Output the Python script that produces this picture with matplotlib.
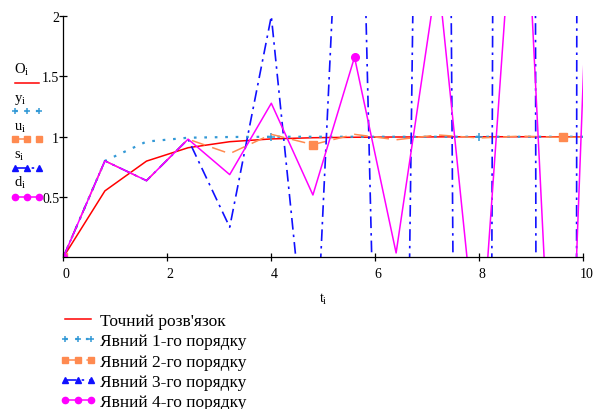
import matplotlib.pyplot as plt
import matplotlib.transforms as mtransforms
from matplotlib.lines import Line2D

# time grid (step 0.8, last point lies past the x limit)
t = [0, 0.8, 1.6, 2.4, 3.2, 4.0, 4.8, 5.6, 6.4, 7.2, 8.0, 8.8, 9.6, 10.4]

# exact solution and the four explicit schemes
exact = [0, 0.551, 0.798, 0.909, 0.959, 0.982, 0.992, 0.996, 0.998, 0.999, 1.0, 1.0, 1.0, 1.0]
order1 = [0, 0.8, 0.96, 0.992, 0.998, 1.0, 1.0, 1.0, 1.0, 1.0, 1.0, 1.0, 1.0, 1.0]
order2 = [0, 0.8, 0.636, 0.98, 0.86, 1.02, 0.935, 1.02, 0.975, 1.015, 0.99, 1.005, 0.995, 1.0]
order3 = [0, 0.8, 0.636, 0.98, 0.25, 2.0, -1.4, 6.0, -8.5, 17.7, -30.6, 71.0, -126.0, 247.0]
order4 = [0, 0.8, 0.636, 0.98, 0.686, 1.278, 0.517, 1.66, 0.036, 2.37, -1.0, 3.9, -3.1, 6.1]

legend_labels = ["Точний розв'язок", "Явний 1-го порядку", "Явний 2-го порядку",
                 "Явний 3-го порядку", "Явний 4-го порядку"]
trace_names = [r'$\mathrm{O_i}$', r'$\mathrm{y_i}$', r'$\mathrm{u_i}$', r'$\mathrm{s_i}$', r'$\mathrm{d_i}$']

plt.rcParams['font.family'] = ['Liberation Serif', 'DejaVu Serif']
plt.rcParams['mathtext.fontset'] = 'custom'
plt.rcParams['mathtext.rm'] = 'Liberation Serif'
plt.rcParams['mathtext.it'] = 'Liberation Serif'

c_red, c_cyan, c_orange, c_blue, c_mag = 'red', '#3399d6', '#ff8a50', '#1010ff', '#ff00ff'

styles = [
    dict(color=c_red, lw=1.1, ls='-'),
    dict(color=c_cyan, lw=1.6, dashes=[1.2, 3.5], marker='+', ms=6, mew=1.1),
    dict(color=c_orange, lw=1.1, dashes=[9, 5], marker='s', ms=6),
    dict(color=c_blue, lw=1.2, dashes=[7, 3, 1.5, 3], marker='^', ms=5),
    dict(color=c_mag, lw=1.1, ls='-', marker='o', ms=5.5),
]
every = [None, 5, 6, 8, 7]

fig = plt.figure(figsize=(6, 4.1), dpi=100)
ax = fig.add_axes([0.1055, 0.37, 0.8667, 0.588])

for y, st, me in zip([exact, order1, order2, order3, order4], styles, every):
    ax.plot(t, y, markevery=me, **st)

ax.set_xlim(0, 10)
ax.set_ylim(0, 2)
ax.spines['top'].set_visible(False)
ax.spines['right'].set_visible(False)
for s in ['left', 'bottom']:
    ax.spines[s].set_linewidth(0.9)
ax.set_xticks([0, 2, 4, 6, 8, 10])
ax.set_yticks([0.5, 1, 1.5, 2])
ax.set_yticklabels(['0.5', '1', '1.5', '2'])
ax.tick_params(axis='x', direction='inout', length=6, width=0.9, labelsize=10, pad=4)
ax.tick_params(axis='y', direction='inout', length=6, width=0.9, labelsize=10, pad=0)
shift = mtransforms.ScaledTranslation(3 / 100, 0, fig.dpi_scale_trans)
for lab in ax.get_xticklabels():
    lab.set_transform(lab.get_transform() + shift)
ax.set_xlabel(r'$\mathrm{t_i}$', fontsize=10, labelpad=8)

# smaller glyph versions for the legends (no markevery)
glyph_styles = []
for st in styles:
    g = dict(st)
    if 'ms' in g:
        g['ms'] = 4.5
    glyph_styles.append(g)
proxies = [Line2D([], [], **g) for g in glyph_styles]

# trace names with glyphs on the left, Mathcad style
name_y = [70, 100, 128, 156, 183]
glyph_y = [84, 112, 140, 169, 198]
for name, ny, gy, g in zip(trace_names, name_y, glyph_y, glyph_styles):
    fig.text(14 / 600, 1 - ny / 410, name, fontsize=10.5, va='center', ha='left')
    fig.add_artist(Line2D([15 / 600, 27 / 600, 39 / 600], [1 - gy / 410] * 3,
                          transform=fig.transFigure, **g))

fig.legend(proxies, legend_labels, loc='upper left', bbox_to_anchor=(60 / 600, 1 - 314 / 410),
           frameon=False, fontsize=12.5, numpoints=3, handlelength=2.1, handletextpad=0.2,
           labelspacing=0.24, borderpad=0, borderaxespad=0)

fig.savefig('out.png', dpi=100)
